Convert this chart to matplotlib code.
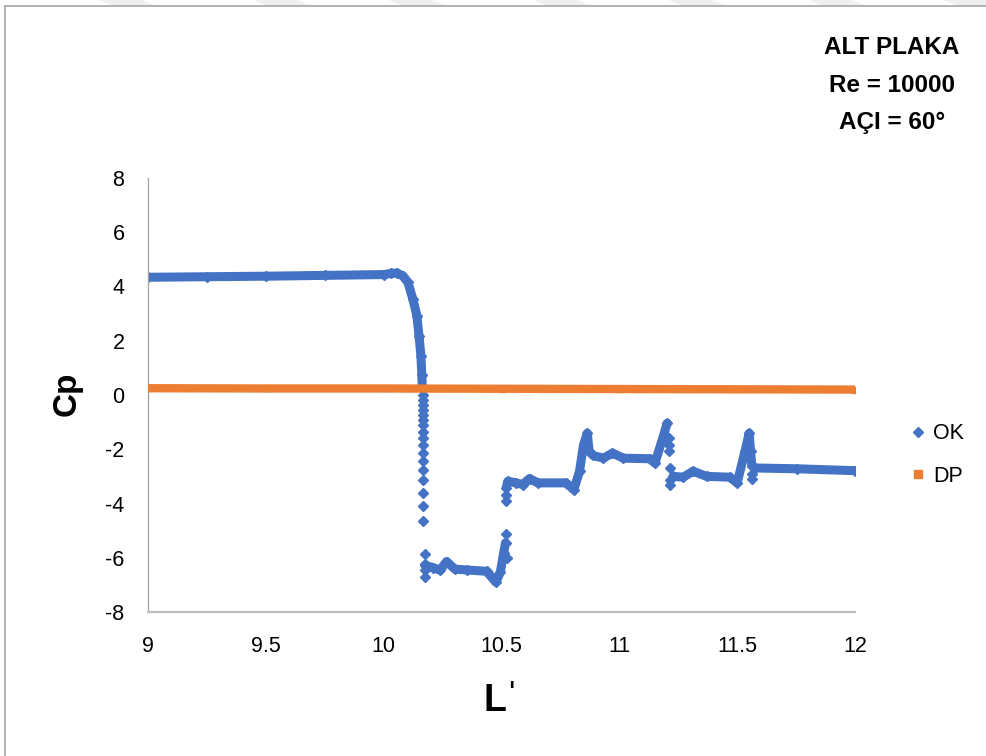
import matplotlib
matplotlib.use("Agg")
import matplotlib.pyplot as plt
from matplotlib.lines import Line2D
from matplotlib.patches import Polygon

plt.rcParams["font.family"] = ["Liberation Sans", "DejaVu Sans"]
plt.rcParams["axes.unicode_minus"] = False

BLUE = "#4472C4"
ORANGE = "#ED7D31"

# OK series: dense parts, split where the curve jumps
ok_a_x = [9.0, 9.25, 9.5, 9.75, 10.0, 10.03, 10.055, 10.08, 10.103, 10.124, 10.141,
          10.150, 10.158, 10.162, 10.164]
ok_a_y = [4.34, 4.36, 4.38, 4.41, 4.44, 4.48, 4.50, 4.40, 4.15, 3.53, 2.92,
          2.18, 1.45, 0.72, 0.24]

ok_b_x = [10.175, 10.209, 10.239, 10.267, 10.302, 10.352, 10.437, 10.458, 10.476,
          10.495, 10.509, 10.517]
ok_b_y = [-6.28, -6.36, -6.46, -6.14, -6.42, -6.45, -6.50, -6.72, -6.90,
          -6.54, -5.82, -5.45]

ok_c_x = [10.520, 10.527, 10.562, 10.590, 10.619, 10.654, 10.774, 10.807, 10.831,
          10.848, 10.864, 10.872, 10.889, 10.932, 10.971, 11.017, 11.130, 11.151,
          11.180, 11.203]
ok_c_y = [-3.42, -3.18, -3.24, -3.30, -3.08, -3.24, -3.24, -3.49, -2.81,
          -1.84, -1.41, -2.08, -2.23, -2.33, -2.14, -2.33, -2.35, -2.51,
          -1.71, -1.04]

ok_d_x = [11.229, 11.271, 11.313, 11.370, 11.469, 11.500, 11.533, 11.551, 11.557,
          11.562, 11.575, 11.752, 12.0]
ok_d_y = [-3.00, -3.03, -2.81, -3.00, -3.03, -3.24, -2.08, -1.41, -2.08,
          -2.60, -2.69, -2.72, -2.79]

# isolated OK points (vertical drops)
ok_sparse_x = [10.168] * 17 + [10.175] * 4 + [10.517, 10.522, 10.517, 10.517] \
    + [11.210] * 3 + [11.215] * 3 + [11.562] * 2
ok_sparse_y = [-0.01, -0.19, -0.37, -0.56, -0.74, -0.92, -1.10, -1.35, -1.59,
               -1.83, -2.14, -2.44, -2.75, -3.12, -3.60, -4.09, -4.64,
               -5.86, -6.23, -6.45, -6.72,
               -5.13, -6.00, -3.91, -3.67,
               -1.60, -1.85, -2.05,
               -2.69, -3.12, -3.30,
               -2.90, -3.10]

dp_x = [9.0, 9.5, 10.0, 10.5, 11.0, 11.5, 12.0]
dp_y = [0.25, 0.24, 0.24, 0.23, 0.22, 0.21, 0.20]

fig = plt.figure(figsize=(9.87, 7.56), dpi=100)
ax = fig.add_axes([148 / 987, 1 - 612 / 756, (855 - 148) / 987, (612 - 178) / 756])

for xs, ys in [(ok_a_x, ok_a_y), (ok_b_x, ok_b_y), (ok_c_x, ok_c_y), (ok_d_x, ok_d_y)]:
    ax.plot(xs, ys, color=BLUE, lw=6.5, marker="D", ms=5, solid_joinstyle="round",
            solid_capstyle="round", zorder=2)
ax.plot(ok_sparse_x, ok_sparse_y, ls="none", marker="D", ms=5, color=BLUE, zorder=2)
ax.plot(dp_x, dp_y, color=ORANGE, lw=6, marker="s", ms=4, solid_capstyle="butt", zorder=3)

ax.set_xlim(9, 12)
ax.set_ylim(-8, 8)
ax.set_xticks([9, 9.5, 10, 10.5, 11, 11.5, 12])
ax.set_xticklabels(["9", "9.5", "10", "10.5", "11", "11.5", "12"])
ax.set_yticks(range(-8, 9, 2))
ax.tick_params(length=0, labelsize=15.5, pad=17)
for s in ("top", "right"):
    ax.spines[s].set_visible(False)
ax.spines["left"].set_color("#A0A0A0")
ax.spines["left"].set_linewidth(0.9)
ax.spines["bottom"].set_color("#BFBFBF")
ax.spines["bottom"].set_linewidth(1.6)

fig.text(67 / 987, 1 - 394 / 756, "Cp", rotation=90, fontsize=24, fontweight="bold",
         ha="center", va="center")
fig.text(495 / 987, 1 - 701 / 756, "L", fontsize=27, fontweight="bold",
         ha="center", va="center")
fig.text(511 / 987, 1 - 695 / 756, "'", fontsize=24, ha="center", va="center")

for i, line in enumerate(["ALT PLAKA", "Re = 10000", "AÇI = 60°"]):
    fig.text(892 / 987, 1 - (47 + 38 * i) / 756, line, fontsize=17.5, fontweight="bold",
             ha="center", va="center")

handles = [Line2D([], [], ls="none", marker="D", ms=5, color=BLUE),
           Line2D([], [], ls="none", marker="s", ms=5.5, color=ORANGE)]
fig.legend(handles, ["OK", "DP"], loc="center left", bbox_to_anchor=(899 / 987, 1 - 455 / 756),
           frameon=False, fontsize=15.5, handlelength=0.8, handletextpad=0.3,
           labelspacing=1.0, borderpad=0)

# frame of the page and faint watermark stripes at the very top
fig.add_artist(Line2D([5 / 987, 5 / 987], [0, 1 - 6 / 756], color="#A6A6A6", lw=1.2,
                      transform=fig.transFigure))
fig.add_artist(Line2D([5 / 987, 1], [1 - 6 / 756, 1 - 6 / 756], color="#A6A6A6", lw=1.2,
                      transform=fig.transFigure))
for cx in [130, 285, 420, 565, 700, 840, 975]:
    pts = [((cx - 30) / 987, 1), ((cx + 10) / 987, 1),
           ((cx + 25) / 987, 1 - 6 / 756), ((cx - 15) / 987, 1 - 6 / 756)]
    fig.add_artist(Polygon(pts, closed=True, color="#EFEFEF", transform=fig.transFigure,
                           zorder=0))

fig.savefig("out.png", dpi=100)
